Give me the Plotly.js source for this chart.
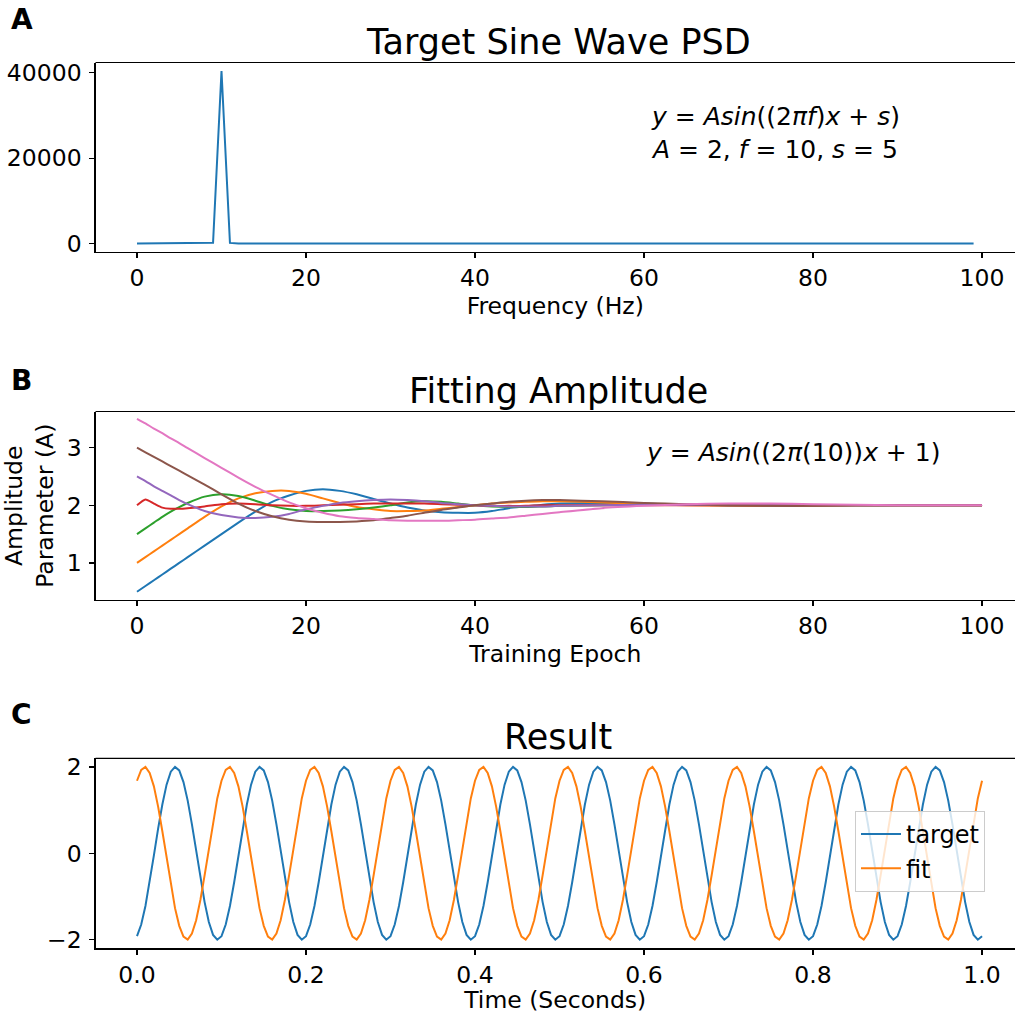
<!DOCTYPE html>
<html>
<head>
<meta charset="utf-8">
<script src="https://cdn.plot.ly/plotly-3.0.1.min.js"></script>
<style>html,body{margin:0;padding:0;background:#fff;overflow:hidden}</style>
</head>
<body>
<div id="chart" style="width:1015px;height:1014px"></div>
<script>
// Panel A: PSD of target sine wave, frequency bins 0..99 Hz
const psdValues = [
  0,0,0,0,0,0,0,0,0,150,
  40400,130,0,0,0,0,0,0,0,0,
  0,0,0,0,0,0,0,0,0,0,
  0,0,0,0,0,0,0,0,0,0,
  0,0,0,0,0,0,0,0,0,0,
  0,0,0,0,0,0,0,0,0,0,
  0,0,0,0,0,0,0,0,0,0,
  0,0,0,0,0,0,0,0,0,0,
  0,0,0,0,0,0,0,0,0,0,
  0,0,0,0,0,0,0,0,0,0
];

// Panel B: amplitude parameter over training epochs
const epochs = [0,1,2,3,4,5,6,8,10,12,14,16,18,20,22,24,26,28,30,32,34,36,38,40,42,44,46,48,50,55,60,65,70,75,80,85,90,95,100];
const ampBlue   = [0.5,0.6,0.7,0.8,0.9,1.0,1.1,1.3,1.5,1.7,1.89,2.06,2.17,2.25,2.28,2.25,2.19,2.11,2.03,1.96,1.91,1.88,1.87,1.87,1.9,1.95,1.98,2.01,2.03,2.04,2.03,2.01,2.0,1.99,1.99,2.0,2.0,2.0,2.0];
const ampOrange = [1.0,1.1,1.2,1.3,1.4,1.5,1.6,1.8,1.98,2.12,2.21,2.25,2.25,2.2,2.12,2.04,1.97,1.93,1.9,1.9,1.91,1.94,1.97,2.0,2.03,2.05,2.06,2.07,2.07,2.05,2.02,2.0,1.99,1.99,1.99,2.0,2.0,2.0,2.0];
const ampGreen  = [1.5,1.6,1.7,1.8,1.89,1.97,2.04,2.15,2.19,2.16,2.08,1.99,1.93,1.9,1.9,1.91,1.93,1.96,2.0,2.05,2.07,2.06,2.03,2.0,1.98,1.97,1.97,1.98,1.99,2.0,2.01,2.01,2.0,2.0,2.0,2.0,2.0,2.0,2.0];
const ampRed    = [2.0,2.1,2.03,1.96,1.94,1.94,1.95,1.98,2.02,2.03,2.02,2.0,1.99,1.99,2.0,2.01,2.02,2.03,2.03,2.03,2.03,2.02,2.01,2.0,1.99,1.99,1.99,2.0,2.0,2.0,2.0,2.0,2.0,2.0,2.0,2.0,2.0,2.0,2.0];
const ampPurple = [2.5,2.42,2.33,2.25,2.17,2.09,2.02,1.9,1.83,1.79,1.78,1.8,1.85,1.93,1.99,2.04,2.07,2.09,2.1,2.09,2.07,2.04,2.02,2.0,1.99,1.98,1.98,1.98,1.99,2.0,2.01,2.01,2.0,2.0,2.0,2.0,2.0,2.0,2.0];
const ampBrown  = [3.0,2.92,2.84,2.76,2.68,2.6,2.52,2.36,2.19,2.03,1.9,1.81,1.75,1.72,1.71,1.71,1.72,1.74,1.78,1.82,1.87,1.92,1.96,2.0,2.03,2.06,2.08,2.09,2.09,2.07,2.04,2.02,2.0,1.99,1.99,2.0,2.0,2.0,2.0];
const ampPink   = [3.5,3.42,3.33,3.25,3.16,3.08,2.99,2.82,2.65,2.48,2.32,2.18,2.05,1.95,1.87,1.81,1.78,1.76,1.74,1.73,1.73,1.73,1.74,1.75,1.77,1.79,1.82,1.85,1.88,1.95,1.99,2.02,2.03,2.03,2.02,2.01,2.0,2.0,2.0];

// Panel C: target and fitted waves, sampled every 0.005 s from 0 to 1 s
const targetWave = [
  -1.92,-1.65,-1.22,-0.67,-0.05,0.57,1.13,1.59,1.89,2.0,1.92,1.65,1.22,0.67,0.05,-0.57,-1.13,-1.59,-1.89,-2.0,
  -1.92,-1.65,-1.22,-0.67,-0.05,0.57,1.13,1.59,1.89,2.0,1.92,1.65,1.22,0.67,0.05,-0.57,-1.13,-1.59,-1.89,-2.0,
  -1.92,-1.65,-1.22,-0.67,-0.05,0.57,1.13,1.59,1.89,2.0,1.92,1.65,1.22,0.67,0.05,-0.57,-1.13,-1.59,-1.89,-2.0,
  -1.92,-1.65,-1.22,-0.67,-0.05,0.57,1.13,1.59,1.89,2.0,1.92,1.65,1.22,0.67,0.05,-0.57,-1.13,-1.59,-1.89,-2.0,
  -1.92,-1.65,-1.22,-0.67,-0.05,0.57,1.13,1.59,1.89,2.0,1.92,1.65,1.22,0.67,0.05,-0.57,-1.13,-1.59,-1.89,-2.0,
  -1.92,-1.65,-1.22,-0.67,-0.05,0.57,1.13,1.59,1.89,2.0,1.92,1.65,1.22,0.67,0.05,-0.57,-1.13,-1.59,-1.89,-2.0,
  -1.92,-1.65,-1.22,-0.67,-0.05,0.57,1.13,1.59,1.89,2.0,1.92,1.65,1.22,0.67,0.05,-0.57,-1.13,-1.59,-1.89,-2.0,
  -1.92,-1.65,-1.22,-0.67,-0.05,0.57,1.13,1.59,1.89,2.0,1.92,1.65,1.22,0.67,0.05,-0.57,-1.13,-1.59,-1.89,-2.0,
  -1.92,-1.65,-1.22,-0.67,-0.05,0.57,1.13,1.59,1.89,2.0,1.92,1.65,1.22,0.67,0.05,-0.57,-1.13,-1.59,-1.89,-2.0,
  -1.92,-1.65,-1.22,-0.67,-0.05,0.57,1.13,1.59,1.89,2.0,1.92,1.65,1.22,0.67,0.05,-0.57,-1.13,-1.59,-1.89,-2.0,
  -1.92
];
const fitWave = [
  1.68,1.93,2.0,1.86,1.55,1.08,0.51,-0.12,-0.73,-1.27,-1.68,-1.93,-2.0,-1.86,-1.55,-1.08,-0.51,0.12,0.73,1.27,
  1.68,1.93,2.0,1.86,1.55,1.08,0.51,-0.12,-0.73,-1.27,-1.68,-1.93,-2.0,-1.86,-1.55,-1.08,-0.51,0.12,0.73,1.27,
  1.68,1.93,2.0,1.86,1.55,1.08,0.51,-0.12,-0.73,-1.27,-1.68,-1.93,-2.0,-1.86,-1.55,-1.08,-0.51,0.12,0.73,1.27,
  1.68,1.93,2.0,1.86,1.55,1.08,0.51,-0.12,-0.73,-1.27,-1.68,-1.93,-2.0,-1.86,-1.55,-1.08,-0.51,0.12,0.73,1.27,
  1.68,1.93,2.0,1.86,1.55,1.08,0.51,-0.12,-0.73,-1.27,-1.68,-1.93,-2.0,-1.86,-1.55,-1.08,-0.51,0.12,0.73,1.27,
  1.68,1.93,2.0,1.86,1.55,1.08,0.51,-0.12,-0.73,-1.27,-1.68,-1.93,-2.0,-1.86,-1.55,-1.08,-0.51,0.12,0.73,1.27,
  1.68,1.93,2.0,1.86,1.55,1.08,0.51,-0.12,-0.73,-1.27,-1.68,-1.93,-2.0,-1.86,-1.55,-1.08,-0.51,0.12,0.73,1.27,
  1.68,1.93,2.0,1.86,1.55,1.08,0.51,-0.12,-0.73,-1.27,-1.68,-1.93,-2.0,-1.86,-1.55,-1.08,-0.51,0.12,0.73,1.27,
  1.68,1.93,2.0,1.86,1.55,1.08,0.51,-0.12,-0.73,-1.27,-1.68,-1.93,-2.0,-1.86,-1.55,-1.08,-0.51,0.12,0.73,1.27,
  1.68,1.93,2.0,1.86,1.55,1.08,0.51,-0.12,-0.73,-1.27,-1.68,-1.93,-2.0,-1.86,-1.55,-1.08,-0.51,0.12,0.73,1.27,
  1.68
];

const freqTicks = [0,20,40,60,80,100];
const psdTicks = [0,20000,40000];
const ampTicks = [1,2,3];
const timeTicks = [0,0.2,0.4,0.6,0.8,1.0];
const timeTickText = ['0.0','0.2','0.4','0.6','0.8','1.0'];
const waveTicks = [-2,0,2];
const waveTickText = ['\u22122','0','2'];

const colors = ['#1f77b4','#ff7f0e','#2ca02c','#d62728','#9467bd','#8c564b','#e377c2'];
const ampSeries = [ampBlue, ampOrange, ampGreen, ampRed, ampPurple, ampBrown, ampPink];

const traces = [];
traces.push({type:'scatter', mode:'lines', x0:0, dx:1, y:psdValues, xaxis:'x', yaxis:'y',
  line:{color:colors[0], width:2}, showlegend:false, hoverinfo:'skip'});
ampSeries.forEach((s,i)=>{
  traces.push({type:'scatter', mode:'lines', x:epochs, y:s, xaxis:'x2', yaxis:'y2',
    line:{color:colors[i], width:2, shape:'spline', smoothing:0.6}, showlegend:false, hoverinfo:'skip'});
});
traces.push({type:'scatter', mode:'lines', name:'target', x0:0, dx:0.005, y:targetWave, xaxis:'x3', yaxis:'y3',
  line:{color:colors[0], width:2}, hoverinfo:'skip'});
traces.push({type:'scatter', mode:'lines', name:'fit', x0:0, dx:0.005, y:fitWave, xaxis:'x3', yaxis:'y3',
  line:{color:colors[1], width:2}, hoverinfo:'skip'});

const W = 1015, H = 1014;
const xDom = [95.5/W, 1];
const dom = (top,bot)=>[1-bot/H, 1-top/H];
const FS = 23.5;
const axBase = {showline:true, linecolor:'#000', linewidth:1.2, ticks:'outside', ticklen:5, tickwidth:1.2,
  tickcolor:'#000', showgrid:false, zeroline:false, tickfont:{size:FS, color:'#000'},
  fixedrange:true};
const xBase = Object.assign({}, axBase, {ticklabelstandoff:0});
const yBase = Object.assign({}, axBase, {ticklabelstandoff:3});

const layout = {
  width:W, height:H, margin:{l:0,r:0,t:0,b:0}, paper_bgcolor:'#fff', plot_bgcolor:'#fff',
  font:{family:'DejaVu Sans, sans-serif', color:'#000', size:FS},
  xaxis: Object.assign({}, xBase, {domain:xDom, anchor:'y', range:[-4.91,103.9], tickmode:'array', tickvals:freqTicks,
    title:{text:'Frequency (Hz)', font:{size:FS}, standoff:5}}),
  yaxis: Object.assign({}, yBase, {domain:dom(62.5,252), anchor:'x', range:[-2000,42400], tickmode:'array',
    tickvals:psdTicks, tickformat:'d'}),
  xaxis2: Object.assign({}, xBase, {domain:xDom, anchor:'y2', range:[-4.91,103.9], tickmode:'array', tickvals:freqTicks,
    title:{text:'Training Epoch', font:{size:FS}, standoff:5}}),
  yaxis2: Object.assign({}, yBase, {domain:dom(411.5,600), anchor:'x2', range:[0.357,3.627], tickmode:'array',
    tickvals:ampTicks, title:{text:'Amplitude<br>Parameter (A)', font:{size:FS}, standoff:6}}),
  xaxis3: Object.assign({}, xBase, {domain:xDom, anchor:'y3', range:[-0.0491,1.039], tickmode:'array',
    tickvals:timeTicks, ticktext:timeTickText, title:{text:'Time (Seconds)', font:{size:FS}, standoff:7}}),
  yaxis3: Object.assign({}, yBase, {domain:dom(758.3,948.3), anchor:'x3', range:[-2.2,2.2], tickmode:'array',
    tickvals:waveTicks, ticktext:waveTickText}),
  showlegend:true,
  legend:{x:855/W, y:1-811/H, xanchor:'left', yanchor:'top', bgcolor:'rgba(255,255,255,0.8)',
    bordercolor:'#cccccc', borderwidth:1, font:{size:24, color:'#000'}, itemwidth:40,
    tracegroupgap:0},
  shapes:[
    {type:'line', xref:'x domain', yref:'y domain', x0:0, x1:1, y0:1, y1:1, line:{color:'#000', width:1.2}},
    {type:'line', xref:'x2 domain', yref:'y2 domain', x0:0, x1:1, y0:1, y1:1, line:{color:'#000', width:1.2}},
    {type:'line', xref:'x3 domain', yref:'y3 domain', x0:0, x1:1, y0:1, y1:1, line:{color:'#000', width:1.2}}
  ],
  annotations:[
    {text:'Target Sine Wave PSD', xref:'paper', yref:'paper', x:558/W, y:1-42/H, xanchor:'center', yanchor:'middle', showarrow:false, font:{size:35}},
    {text:'Fitting Amplitude', xref:'paper', yref:'paper', x:558/W, y:1-391/H, xanchor:'center', yanchor:'middle', showarrow:false, font:{size:35}},
    {text:'Result', xref:'paper', yref:'paper', x:558/W, y:1-737/H, xanchor:'center', yanchor:'middle', showarrow:false, font:{size:35}},
    {text:'<b>A</b>', xref:'paper', yref:'paper', x:9/W, y:1-20/H, xanchor:'left', yanchor:'middle', showarrow:false, font:{size:28}},
    {text:'<b>B</b>', xref:'paper', yref:'paper', x:9/W, y:1-380/H, xanchor:'left', yanchor:'middle', showarrow:false, font:{size:28}},
    {text:'<b>C</b>', xref:'paper', yref:'paper', x:9/W, y:1-714/H, xanchor:'left', yanchor:'middle', showarrow:false, font:{size:28}},
    {text:'<i>y</i> = <i>Asin</i>((2<i>πf</i>)<i>x</i> + <i>s</i>)', xref:'paper', yref:'paper', x:649/W, y:1-116/H, xanchor:'left', yanchor:'middle', showarrow:false, font:{size:25}},
    {text:'<i>A</i> = 2, <i>f</i> = 10, <i>s</i> = 5', xref:'paper', yref:'paper', x:649/W, y:1-150/H, xanchor:'left', yanchor:'middle', showarrow:false, font:{size:25}},
    {text:'<i>y</i> = <i>Asin</i>((2<i>π</i>(10))<i>x</i> + 1)', xref:'paper', yref:'paper', x:644/W, y:1-453/H, xanchor:'left', yanchor:'middle', showarrow:false, font:{size:25}}
  ]
};

Plotly.newPlot('chart', traces, layout, {staticPlot:true, displayModeBar:false});
</script>
</body>
</html>
